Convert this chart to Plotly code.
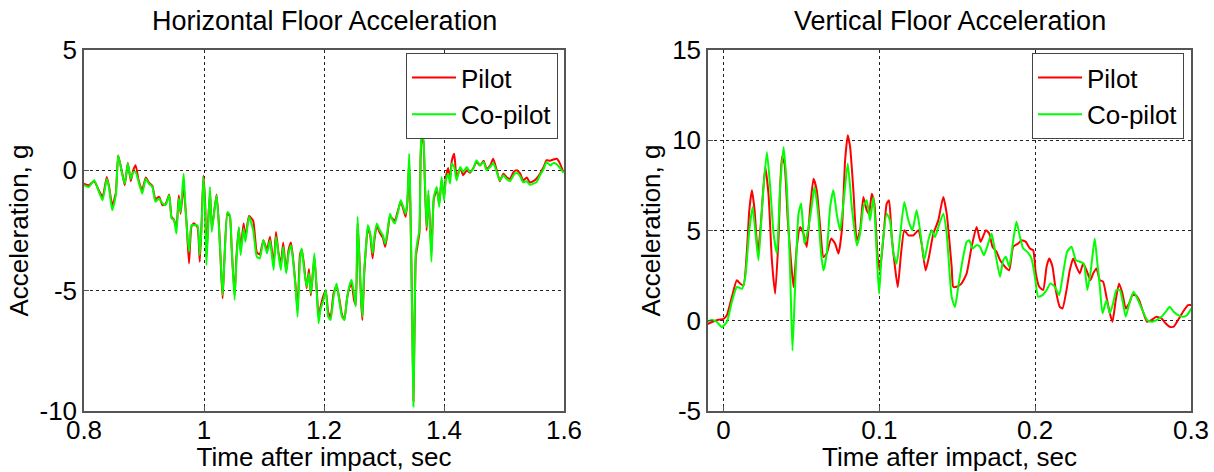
import plotly.graph_objects as go

# ---------------- Horizontal floor acceleration (left) ----------------
h_time = [0.800, 0.808, 0.817, 0.825, 0.831, 0.838, 0.842, 0.847, 0.853, 0.857,
          0.864, 0.868, 0.873, 0.878, 0.882, 0.886, 0.891, 0.897, 0.903, 0.908,
          0.914, 0.919, 0.925, 0.931, 0.936, 0.942, 0.946, 0.950, 0.954, 0.958,
          0.961, 0.966, 0.968, 0.971, 0.975, 0.979, 0.983, 0.989, 0.993, 0.996,
          0.999, 1.002, 1.004, 1.007, 1.010, 1.013, 1.017, 1.021, 1.025, 1.028,
          1.031, 1.034, 1.039, 1.043, 1.046, 1.051, 1.054, 1.058, 1.061, 1.066,
          1.069, 1.075, 1.082, 1.088, 1.093, 1.099, 1.105, 1.110, 1.116, 1.120,
          1.124, 1.128, 1.132, 1.137, 1.141, 1.145, 1.149, 1.153, 1.156, 1.160,
          1.163, 1.167, 1.171, 1.175, 1.178, 1.181, 1.184, 1.188, 1.191, 1.194,
          1.199, 1.203, 1.207, 1.211, 1.216, 1.221, 1.226, 1.230, 1.234, 1.238,
          1.242, 1.246, 1.250, 1.253, 1.256, 1.259, 1.262, 1.264, 1.267, 1.270,
          1.273, 1.277, 1.281, 1.284, 1.288, 1.293, 1.298, 1.302, 1.306, 1.310,
          1.314, 1.318, 1.324, 1.328, 1.332, 1.336, 1.339, 1.342, 1.344, 1.347,
          1.349, 1.351, 1.353, 1.356, 1.359, 1.361, 1.363, 1.366, 1.368, 1.371,
          1.374, 1.379, 1.383, 1.388, 1.392, 1.396, 1.400, 1.403, 1.407, 1.410,
          1.413, 1.417, 1.421, 1.427, 1.432, 1.438, 1.443, 1.449, 1.454, 1.460,
          1.466, 1.471, 1.477, 1.482, 1.488, 1.493, 1.499, 1.504, 1.510, 1.516,
          1.521, 1.527, 1.532, 1.538, 1.543, 1.549, 1.554, 1.560, 1.566, 1.571,
          1.577, 1.582, 1.588, 1.593, 1.599]

h_pilot = [-0.55, -0.62, -0.45, -0.85, -1.10, -0.28, -0.70, -1.45, -0.95, 0.62,
           -0.15, -0.62, 0.30, -0.45, 0.00, 0.21, -0.40, -0.80, -0.30, -0.50,
           -0.65, -1.20, -1.10, -1.45, -1.40, -1.00, -1.95, -2.05, -2.40, -1.04,
           -1.80, -0.60, -1.20, -2.20, -3.87, -2.35, -2.20, -2.35, -3.80, -2.20,
           -0.21, -1.40, -3.60, -2.10, -0.90, -2.40, -1.70, -1.00, -2.30, -3.90,
           -5.32, -3.70, -1.80, -1.90, -3.20, -5.20, -3.60, -2.40, -3.30, -2.20,
           -2.80, -1.90, -2.10, -3.40, -3.50, -2.90, -3.30, -2.76, -3.90, -2.56,
           -3.40, -3.90, -3.00, -4.20, -3.30, -3.00, -3.80, -4.90, -5.80, -3.50,
           -3.30, -4.00, -4.90, -4.10, -5.20, -4.40, -3.60, -5.00, -6.10, -5.70,
           -5.20, -5.00, -5.90, -6.10, -5.10, -4.80, -5.40, -6.00, -6.20, -5.40,
           -4.90, -4.70, -5.39, -5.60, -2.20, -3.60, -5.50, -6.22, -4.30, -3.20,
           -2.40, -2.70, -3.66, -2.90, -2.30, -2.60, -2.80, -3.18, -2.60, -1.90,
           -2.00, -2.10, -1.60, -1.30, -1.60, -1.93, -1.30, 0.40, -1.50, -6.00,
           -9.60, -6.50, -3.60, -3.10, -2.60, 0.50, 1.50, 1.10, -0.40, -2.50,
           -1.00, -3.40, -1.20, -0.80, -1.40, -0.40, -1.10, -0.30, 0.10, -0.40,
           0.40, 0.69, -0.30, 0.10, -0.20, 0.00, -0.10, 0.10, 0.35, 0.20,
           0.40, 0.05, 0.20, 0.48, 0.00, -0.45, -0.14, -0.28, -0.35, -0.07,
           0.00, -0.14, -0.42, -0.30, -0.50, -0.45, -0.35, -0.14, 0.14, 0.42,
           0.40, 0.45, 0.48, 0.30, -0.07]

h_copilot = [-0.62, -0.69, -0.41, -0.90, -1.24, -0.35, -0.76, -1.66, -1.04, 0.62,
             -0.21, -0.55, 0.28, -0.35, -0.07, -0.07, -0.48, -0.97, -0.35, -0.55,
             -0.69, -1.31, -1.17, -1.38, -1.45, -1.04, -2.00, -2.07, -2.62, -1.17,
             -1.73, -0.14, -1.04, -2.28, -3.38, -2.28, -2.28, -2.28, -3.52, -2.28,
             -0.28, -1.73, -3.94, -2.28, -0.69, -2.56, -1.73, -1.04, -2.42, -3.80,
             -5.18, -3.80, -1.73, -1.86, -3.11, -5.39, -3.80, -2.35, -3.52, -2.42,
             -2.97, -1.93, -2.49, -3.59, -3.66, -2.90, -3.45, -2.90, -4.14, -2.76,
             -3.45, -4.14, -3.18, -4.28, -3.45, -3.11, -3.87, -4.97, -6.08, -3.73,
             -3.25, -4.14, -4.83, -4.28, -5.11, -4.42, -3.45, -5.11, -6.35, -5.80,
             -5.39, -4.97, -6.08, -6.22, -5.25, -4.70, -5.52, -6.08, -6.22, -5.39,
             -4.83, -4.56, -5.11, -5.66, -1.93, -3.73, -5.39, -6.08, -4.14, -3.18,
             -2.28, -2.62, -3.45, -2.76, -2.21, -2.49, -2.69, -3.04, -2.49, -1.80,
             -2.07, -2.21, -1.66, -1.24, -1.52, -1.80, -1.24, 0.69, -1.38, -6.22,
             -9.81, -6.22, -3.45, -2.90, -2.49, 0.69, 1.66, 1.24, -0.28, -2.35,
             -0.83, -3.80, -1.11, -0.69, -1.52, -0.28, -1.25, -0.42, -0.14, -0.55,
             0.28, 0.14, -0.42, 0.14, -0.07, 0.14, -0.07, 0.07, 0.42, 0.21,
             0.35, 0.00, 0.14, 0.30, -0.07, -0.42, -0.20, -0.35, -0.45, -0.20,
             -0.10, -0.25, -0.50, -0.45, -0.60, -0.55, -0.50, -0.20, 0.05, 0.35,
             0.20, 0.30, 0.25, 0.10, -0.10]

# ---------------- Vertical floor acceleration (right) ----------------
v_time_pilot = [-0.0105, -0.0075, -0.0032, 0.0000, 0.0021, 0.0053, 0.0085, 0.0107, 0.0128, 0.0150,
                0.0165, 0.0182, 0.0199, 0.0220, 0.0241, 0.0267, 0.0288, 0.0310, 0.0331, 0.0353,
                0.0374, 0.0391, 0.0412, 0.0434, 0.0449, 0.0470, 0.0491, 0.0513, 0.0534, 0.0556,
                0.0577, 0.0598, 0.0620, 0.0641, 0.0662, 0.0690, 0.0716, 0.0737, 0.0759, 0.0780,
                0.0797, 0.0812, 0.0833, 0.0855, 0.0876, 0.0897, 0.0919, 0.0934, 0.0951, 0.0968,
                0.0989, 0.1004, 0.1026, 0.1047, 0.1062, 0.1079, 0.1100, 0.1118, 0.1139, 0.1160,
                0.1186, 0.1218, 0.1250, 0.1271, 0.1297, 0.1318, 0.1346, 0.1378, 0.1410, 0.1432,
                0.1464, 0.1474, 0.1496, 0.1528, 0.1560, 0.1592, 0.1624, 0.1650, 0.1684, 0.1705,
                0.1726, 0.1752, 0.1774, 0.1806, 0.1833, 0.1859, 0.1891, 0.1912, 0.1940, 0.1966,
                0.1987, 0.2004, 0.2026, 0.2051, 0.2073, 0.2090, 0.2111, 0.2132, 0.2158, 0.2175,
                0.2201, 0.2222, 0.2244, 0.2265, 0.2286, 0.2308, 0.2329, 0.2355, 0.2372, 0.2393,
                0.2415, 0.2436, 0.2457, 0.2479, 0.2496, 0.2517, 0.2538, 0.2560, 0.2581, 0.2603,
                0.2624, 0.2645, 0.2667, 0.2692, 0.2718, 0.2746, 0.2778, 0.2810, 0.2838, 0.2863,
                0.2889, 0.2917, 0.2949, 0.2981, 0.3002]

v_pilot = [-0.20, -0.07, 0.06, 0.11, 0.30, 1.31, 2.24, 2.05, 1.96, 3.90,
           6.12, 7.23, 6.12, 3.72, 5.56, 8.52, 7.04, 3.35, 1.50, 4.64,
           9.08, 8.71, 5.56, 3.16, 1.87, 4.09, 5.19, 4.82, 4.09, 6.30,
           7.87, 7.23, 5.19, 3.53, 3.72, 4.55, 4.27, 3.72, 5.01, 8.89,
           10.28, 9.63, 7.23, 4.45, 5.01, 6.86, 6.12, 5.93, 7.04, 6.49,
           3.53, 2.79, 4.64, 6.49, 6.67, 4.64, 2.98, 1.87, 3.72, 5.01,
           4.73, 4.73, 5.01, 4.27, 2.79, 3.53, 4.82, 5.56, 6.86, 5.93,
           2.98, 1.88, 1.88, 2.07, 2.62, 4.10, 5.20, 4.37, 5.02, 4.83,
           4.10, 3.82, 3.36, 2.99, 2.80, 4.10, 4.28, 4.46, 4.37, 4.00,
           3.91, 2.62, 1.88, 1.70, 2.99, 3.45, 2.99, 1.70, 0.77, 0.68,
           1.70, 2.80, 3.45, 2.99, 2.62, 3.17, 2.80, 2.25, 2.62, 2.90,
           2.25, 2.16, 1.33, 0.41, -0.06, 1.14, 2.07, 1.51, 0.68, 0.96,
           1.42, 1.42, 1.14, 0.50, -0.06, 0.04, 0.22, 0.13, -0.15, -0.33,
           -0.33, 0.04, 0.50, 0.87, 0.87]

v_time_copilot = [-0.0107, -0.0075, -0.0043, -0.0011, 0.0021, 0.0053, 0.0085, 0.0118, 0.0139, 0.0165,
                  0.0186, 0.0203, 0.0224, 0.0250, 0.0278, 0.0299, 0.0321, 0.0342, 0.0363, 0.0385,
                  0.0406, 0.0427, 0.0442, 0.0459, 0.0481, 0.0498, 0.0519, 0.0541, 0.0562, 0.0583,
                  0.0605, 0.0626, 0.0641, 0.0662, 0.0684, 0.0705, 0.0726, 0.0748, 0.0769, 0.0797,
                  0.0823, 0.0855, 0.0876, 0.0897, 0.0919, 0.0940, 0.0962, 0.0983, 0.0998, 0.1015,
                  0.1047, 0.1068, 0.1090, 0.1111, 0.1132, 0.1160, 0.1186, 0.1212, 0.1239, 0.1261,
                  0.1288, 0.1314, 0.1335, 0.1357, 0.1378, 0.1410, 0.1432, 0.1464, 0.1485, 0.1506,
                  0.1534, 0.1560, 0.1577, 0.1598, 0.1624, 0.1645, 0.1671, 0.1692, 0.1720, 0.1741,
                  0.1774, 0.1795, 0.1812, 0.1833, 0.1859, 0.1880, 0.1902, 0.1923, 0.1949, 0.1976,
                  0.1998, 0.2019, 0.2047, 0.2073, 0.2098, 0.2126, 0.2154, 0.2179, 0.2205, 0.2233,
                  0.2261, 0.2286, 0.2312, 0.2335, 0.2357, 0.2382, 0.2397, 0.2415, 0.2432, 0.2457,
                  0.2479, 0.2500, 0.2521, 0.2543, 0.2564, 0.2581, 0.2607, 0.2632, 0.2660, 0.2688,
                  0.2718, 0.2746, 0.2778, 0.2810, 0.2838, 0.2863, 0.2889, 0.2917, 0.2949, 0.2974,
                  0.3002]

v_copilot = [-0.07, 0.06, -0.07, -0.35, -0.07, 1.04, 1.87, 1.77, 2.42, 5.01,
             6.30, 5.01, 3.35, 6.67, 9.35, 7.41, 4.82, 3.72, 7.41, 9.63,
             7.41, 2.79, -1.65, 1.87, 5.93, 6.49, 4.27, 5.01, 6.12, 7.41,
             6.12, 3.72, 2.79, 3.72, 6.30, 7.23, 5.93, 5.01, 6.49, 8.71,
             6.30, 4.18, 4.82, 6.30, 6.67, 5.56, 6.86, 3.72, 1.50, 3.72,
             5.93, 5.56, 3.72, 3.16, 4.64, 6.58, 5.56, 5.01, 6.12, 5.01,
             3.35, 4.45, 5.01, 4.64, 5.19, 5.93, 4.82, 1.31, 0.76, 1.88,
             3.36, 4.37, 4.46, 4.00, 4.19, 4.10, 3.63, 4.10, 4.83, 3.91,
             2.44, 3.36, 3.54, 2.99, 4.46, 5.48, 4.65, 4.00, 3.82, 3.45,
             2.44, 1.33, 1.42, 1.70, 2.07, 1.88, 1.42, 2.62, 3.82, 4.10,
             3.36, 3.27, 3.17, 1.70, 2.80, 4.56, 3.36, 1.88, 0.41, 1.14,
             0.41, 0.96, 1.70, 1.70, 0.96, 0.22, 1.05, 1.61, 1.14, 0.59,
             0.04, -0.06, 0.04, 0.22, 0.50, 0.77, 0.50, 0.31, 0.22, 0.31,
             0.68]

# ---------------- tick labels / texts ----------------
h_xticks = [0.8, 1.0, 1.2, 1.4, 1.6]
h_xtick_text = ["0.8", "1", "1.2", "1.4", "1.6"]
h_yticks = [-10, -5, 0, 5]
h_ytick_text = ["-10", "-5", "0", "5"]
v_xticks = [0.0, 0.1, 0.2, 0.3]
v_xtick_text = ["0", "0.1", "0.2", "0.3"]
v_yticks = [-5, 0, 5, 10, 15]
v_ytick_text = ["-5", "0", "5", "10", "15"]

titles = ["Horizontal Floor Acceleration", "Vertical Floor Acceleration"]
x_label = "Time after impact, sec"
y_label = "Acceleration, g"
series_names = ["Pilot", "Co-pilot"]
series_colors = ["#ff0000", "#00ff00"]

W, H = 1214, 472
FONT = "Liberation Sans, Arial, sans-serif"
FS = 26

fig = go.Figure()

line_common = dict(width=2, shape="spline", smoothing=0.5)
fig.add_trace(go.Scatter(x=h_time, y=h_pilot, mode="lines", name=series_names[0],
                         line=dict(color=series_colors[0], **line_common), xaxis="x", yaxis="y",
                         legend="legend"))
fig.add_trace(go.Scatter(x=h_time, y=h_copilot, mode="lines", name=series_names[1],
                         line=dict(color=series_colors[1], **line_common), xaxis="x", yaxis="y",
                         legend="legend"))
fig.add_trace(go.Scatter(x=v_time_pilot, y=v_pilot, mode="lines", name=series_names[0],
                         line=dict(color=series_colors[0], **line_common), xaxis="x2", yaxis="y2",
                         legend="legend2"))
fig.add_trace(go.Scatter(x=v_time_copilot, y=v_copilot, mode="lines", name=series_names[1],
                         line=dict(color=series_colors[1], **line_common), xaxis="x2", yaxis="y2",
                         legend="legend2"))

ydom = [1 - 411 / H, 1 - 50 / H]
common_axis = dict(
    showline=True, mirror=True, linecolor="#555555", linewidth=1.5,
    showgrid=True, gridcolor="#222222", gridwidth=1, griddash="3px,3px",
    zeroline=False, ticks="inside", ticklen=5, tickcolor="#555555",
    automargin=False,
    tickfont=dict(family=FONT, size=FS, color="black"),
)
x_extra = dict(ticklabelstandoff=-5)
title_font = dict(family=FONT, size=FS, color="black")

legend_common = dict(xanchor="right", yanchor="top", y=1 - 53 / H,
                     bgcolor="white", bordercolor="#444444", borderwidth=1,
                     itemwidth=44, tracegroupgap=0,
                     font=dict(family=FONT, size=FS, color="black"))

fig.update_layout(
    width=W, height=H,
    margin=dict(l=0, r=0, t=0, b=0),
    paper_bgcolor="white", plot_bgcolor="white",
    font=dict(family=FONT, color="black"),
    xaxis=dict(domain=[84 / W, 564 / W], range=[0.8, 1.6], anchor="y",
               tickvals=h_xticks, ticktext=h_xtick_text,
               title=dict(text=x_label, standoff=6, font=title_font), **common_axis, **x_extra),
    yaxis=dict(domain=ydom, range=[-10, 5], anchor="x",
               tickvals=h_yticks, ticktext=h_ytick_text,
               title=dict(text=y_label, standoff=3, font=title_font), **common_axis),
    xaxis2=dict(domain=[708 / W, 1191 / W], range=[-0.01, 0.3], anchor="y2",
                tickvals=v_xticks, ticktext=v_xtick_text,
                title=dict(text=x_label, standoff=6, font=title_font), **common_axis, **x_extra),
    yaxis2=dict(domain=ydom, range=[-5, 15], anchor="x2",
                tickvals=v_yticks, ticktext=v_ytick_text,
                title=dict(text=y_label, standoff=4, font=title_font), **common_axis),
    legend=dict(x=558 / W, **legend_common),
    legend2=dict(x=1184 / W, **legend_common),
    annotations=[
        dict(text=titles[0], x=(84 + 564) / 2 / W, y=1 - 21 / H, xref="paper", yref="paper",
             showarrow=False, xanchor="center", yanchor="middle",
             font=dict(family=FONT, size=27, color="black")),
        dict(text=titles[1], x=(708 + 1191) / 2 / W, y=1 - 21 / H, xref="paper", yref="paper",
             showarrow=False, xanchor="center", yanchor="middle",
             font=dict(family=FONT, size=27, color="black")),
    ],
)

fig.write_html("out.html", config={"displayModeBar": False},
               post_script="document.body.style.margin='0px';")
